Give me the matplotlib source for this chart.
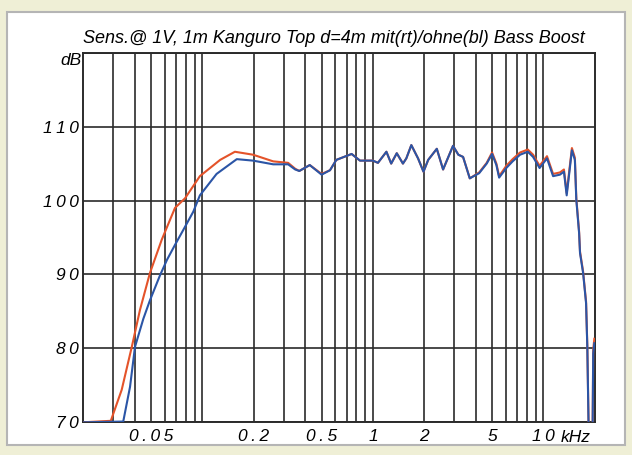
import matplotlib
matplotlib.use('Agg')
import matplotlib.pyplot as plt
import matplotlib.patches as mpatches

# Frequency response, sensitivity @ 1V/1m (kHz, dB)
# rising flank below ~0.4 kHz, separate for both measurements
red_low_khz = [0.02, 0.029, 0.0336, 0.0385, 0.043, 0.0492, 0.0577, 0.069, 0.079,
               0.0966, 0.127, 0.155, 0.198, 0.26, 0.318, 0.35]
red_low_db = [70.0, 70.2, 74.4, 80.2, 85.2, 90.2, 94.7, 99.0, 100.3,
              103.3, 105.5, 106.6, 106.2, 105.3, 105.1, 104.3]

blue_low_khz = [0.02, 0.0343, 0.0376, 0.0402, 0.045, 0.0492, 0.0564, 0.062, 0.069,
                0.0771, 0.0884, 0.0966, 0.121, 0.159, 0.198, 0.26, 0.318, 0.35]
blue_low_db = [70.0, 70.1, 74.8, 80.2, 84.0, 86.5, 89.9, 92.0, 94.0,
               96.0, 98.5, 100.7, 103.6, 105.6, 105.4, 104.9, 104.9, 104.2]

# upper range, both curves nearly on top of each other
upper_khz = [0.37, 0.426, 0.50, 0.56, 0.61, 0.75, 0.84, 1.0, 1.07, 1.2, 1.28, 1.38,
             1.5, 1.57, 1.68, 1.84, 1.98, 2.11, 2.37, 2.58, 2.95, 3.17, 3.38, 3.7,
             4.2, 4.65, 5.0, 5.3, 5.5, 6.06, 6.6, 7.3, 8.1, 8.7, 9.5, 10.5, 11.4,
             12.5, 13.2, 13.7, 14.7, 15.3, 15.6, 16.2, 16.4, 17.1, 17.8, 18.1, 18.4,
             18.6, 19.0, 19.4, 19.6, 19.9]
red_upper_db = [104.0, 104.8, 103.6, 104.1, 105.5, 106.3, 105.4, 105.4, 105.1, 106.6,
                105.0, 106.4, 105.0, 105.7, 107.5, 105.7, 103.9, 105.5, 107.0, 104.2,
                107.4, 106.2, 105.9, 103.0, 103.8, 105.1, 106.5, 105.0, 103.3, 104.7,
                105.6, 106.5, 106.9, 106.2, 104.7, 106.0, 103.6, 103.8, 104.2, 101.0,
                107.1, 105.8, 100.3, 95.8, 93.1, 90.4, 86.3, 80.4, 70.2,
                65.0, 65.0, 66.0, 79.8, 81.3]
blue_upper_db = [104.0, 104.8, 103.5, 104.1, 105.5, 106.3, 105.4, 105.4, 105.1, 106.6,
                 105.0, 106.4, 105.0, 105.7, 107.5, 105.7, 103.9, 105.5, 107.0, 104.2,
                 107.4, 106.2, 105.9, 103.0, 103.7, 105.0, 106.3, 104.8, 103.1, 104.4,
                 105.3, 106.2, 106.6, 105.9, 104.4, 105.7, 103.3, 103.5, 103.9, 100.7,
                 106.8, 105.5, 100.1, 95.6, 92.9, 90.2, 86.1, 80.2, 70.0,
                 65.0, 65.0, 66.0, 79.3, 80.7]

grid_khz = [0.03, 0.04, 0.05, 0.06, 0.07, 0.08, 0.09, 0.1,
            0.2, 0.3, 0.4, 0.5, 0.6, 0.7, 0.8, 0.9, 1,
            2, 3, 4, 5, 6, 7, 8, 9, 10]
x_labels = {0.05: '0.05', 0.2: '0.2', 0.5: '0.5', 1: '1', 2: '2', 5: '5', 10: '10'}
y_ticks = [70, 80, 90, 100, 110, 120]
y_labels = ['70', '80', '90', '100', '110', '']

FONT = ['Liberation Sans', 'DejaVu Sans']
GRID = '#2b2b2b'
RED = '#e4532a'
BLUE = '#2b55a6'
THIN = '\u2009'


def spaced(s):
    # the plotter font runs its digits wide apart
    return THIN.join(s)


fig = plt.figure(figsize=(6.32, 4.55), dpi=100)
fig.patch.set_facecolor('#efefd6')
# white panel with grey rim
panel = mpatches.Rectangle((7 / 632, 1 - 445 / 455), 618 / 632, 433 / 455,
                           transform=fig.transFigure, facecolor='white',
                           edgecolor='#b5b5b5', linewidth=1.5, zorder=-5)
fig.patches.append(panel)

ax = fig.add_axes([83.3 / 632, 1 - 422.3 / 455, 511.4 / 632, 369.6 / 455])
ax.set_facecolor('white')
ax.set_xscale('log')
ax.set_xlim(0.02, 20)
ax.set_ylim(70, 120)

ax.plot(red_low_khz + upper_khz, red_low_db + red_upper_db, color=RED, lw=1.5, zorder=3)
ax.plot(blue_low_khz + upper_khz, blue_low_db + blue_upper_db, color=BLUE, lw=1.5, zorder=4)

ax.set_xticks(grid_khz)
ax.set_xticks([], minor=True)
ax.set_xticklabels([spaced(x_labels.get(f, '')) for f in grid_khz])
ax.set_yticks(y_ticks)
ax.set_yticklabels([spaced(s) for s in y_labels])
ax.grid(True, color=GRID, lw=1.2)
ax.tick_params(length=0, labelsize=12.5)
ax.tick_params(axis='x', pad=5)
ax.tick_params(axis='y', pad=3)
for lab in ax.get_xticklabels() + ax.get_yticklabels():
    lab.set_fontstyle('italic')
    lab.set_fontfamily(FONT)
for sp in ax.spines.values():
    sp.set_color(GRID)
    sp.set_linewidth(1.4)

ax.text(12.7, -0.021, 'kHz', transform=ax.get_xaxis_transform(), ha='left', va='top',
        fontsize=12.5, fontstyle='italic', fontfamily=FONT)
ax.text(-0.004, 119.0, 'dB', transform=ax.get_yaxis_transform(), ha='right', va='center',
        fontsize=12.5, fontstyle='italic', fontfamily=FONT)

fig.text(83 / 632, 1 - 38.3 / 455, 'Sens.@ 1V, 1m Kanguro Top d=4m mit(rt)/ohne(bl) Bass Boost',
         ha='left', va='center', fontsize=13, fontstyle='italic', fontfamily=FONT)

fig.savefig('out.png', dpi=100, facecolor=fig.get_facecolor())
